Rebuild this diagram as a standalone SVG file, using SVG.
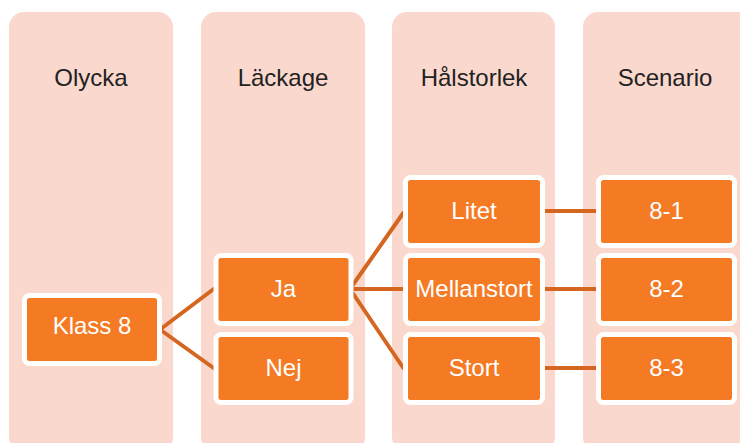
<svg xmlns="http://www.w3.org/2000/svg" width="740" height="443" viewBox="0 0 740 443">
<style>
.col{fill:#fbd8cd}
.hdr{font-family:"Liberation Sans",Arial,sans-serif;font-size:24px;fill:#222;text-anchor:middle}
.box{fill:#f47a24;stroke:#fff;stroke-width:5}
.lbl{font-family:"Liberation Sans",Arial,sans-serif;font-size:24px;fill:#fff;text-anchor:middle}
.con{stroke:#d5661f;stroke-width:4;fill:none}
</style>
<rect width="740" height="443" fill="#fff"/>
<g id="col-olycka"><rect class="col" x="9" y="12" width="164" height="440" rx="15"/><text class="hdr" x="91" y="86">Olycka</text></g>
<g id="col-lackage"><rect class="col" x="201" y="12" width="164" height="440" rx="15"/><text class="hdr" x="283" y="86">Läckage</text></g>
<g id="col-halstorlek"><rect class="col" x="392" y="12" width="163" height="440" rx="15"/><text class="hdr" x="474" y="86">Hålstorlek</text></g>
<g id="col-scenario"><rect class="col" x="583" y="12" width="170" height="440" rx="15"/><text class="hdr" x="665" y="86">Scenario</text></g>
<g id="connectors">
<path class="con" d="M160 329.5 L215 288 M160 329.5 L215 369"/>
<path class="con" d="M350 289 L404 212 M350 289 L404 289 M350 289 L404 369"/>
<path class="con" d="M543 211 L597 211 M543 289 L597 289 M543 368 L597 368"/>
</g>
<g id="n-klass8"><rect class="box" x="24.5" y="295.5" width="135" height="68" rx="5"/><text class="lbl" x="92" y="334">Klass 8</text></g>
<g id="n-ja"><rect class="box" x="216" y="255.5" width="135" height="68" rx="5"/><text class="lbl" x="283.5" y="297">Ja</text></g>
<g id="n-nej"><rect class="box" x="216" y="334.5" width="135" height="68" rx="5"/><text class="lbl" x="283.5" y="376">Nej</text></g>
<g id="n-litet"><rect class="box" x="405.5" y="177.5" width="137" height="68" rx="5"/><text class="lbl" x="474" y="219">Litet</text></g>
<g id="n-mellanstort"><rect class="box" x="405.5" y="255.5" width="137" height="68" rx="5"/><text class="lbl" x="474" y="297">Mellanstort</text></g>
<g id="n-stort"><rect class="box" x="405.5" y="334.5" width="137" height="68" rx="5"/><text class="lbl" x="474" y="376">Stort</text></g>
<g id="n-81"><rect class="box" x="598.5" y="177.5" width="136" height="68" rx="5"/><text class="lbl" x="666.5" y="219">8-1</text></g>
<g id="n-82"><rect class="box" x="598.5" y="255.5" width="136" height="68" rx="5"/><text class="lbl" x="666.5" y="297">8-2</text></g>
<g id="n-83"><rect class="box" x="598.5" y="334.5" width="136" height="68" rx="5"/><text class="lbl" x="666.5" y="376">8-3</text></g>
</svg>
